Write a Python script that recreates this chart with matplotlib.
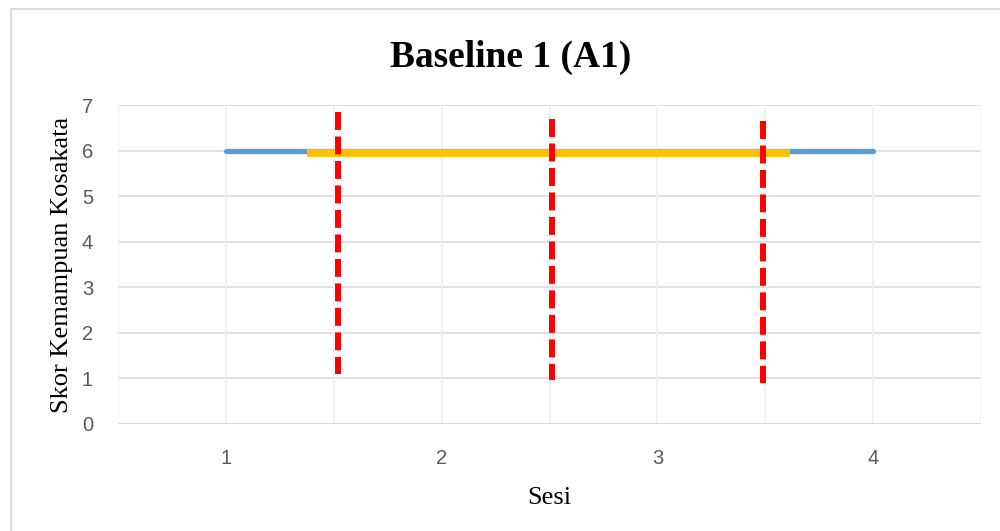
import numpy as np
import matplotlib.pyplot as plt
from matplotlib.patches import Rectangle

# session scores (blue series)
sesi = [1, 2, 3, 4]
skor = [6, 6, 6, 6]

# level band (yellow) start / end and height
band_x = [1.375, 3.615]
band_y = 5.96

# red dashed markers: x, bottom, top
garis_x = [1.52, 2.51, 3.49]
garis_bawah = [1.08, 0.95, 0.90]
garis_atas = [6.85, 6.71, 6.65]

fig = plt.figure(figsize=(10, 5.31), dpi=100)
ax = fig.add_axes([0.118, 0.2024, 0.863, 0.599])

# outer chart border (only top/left visible in frame)
fig.patches.append(Rectangle((0.011, -0.05), 1.2, 1.033, transform=fig.transFigure,
                             fill=False, edgecolor='#D9D9D9', lw=1.3))

ax.set_xlim(0.5, 4.5)
ax.set_ylim(0, 7)

# gridlines
for y in range(1, 8):
    ax.axhline(y, color='#D9D9D9', lw=1.1, zorder=0)
for x in np.arange(0.5, 4.51, 0.5):
    ax.axvline(x, color='#F0F0F0', lw=1.3, zorder=0)
ax.axhline(0, color='#D9D9D9', lw=1.3, zorder=1)

ax.plot(sesi, skor, color='#5B9BD5', lw=3.8, solid_capstyle='round', zorder=2)
ax.plot(band_x, [band_y, band_y], color='#FFC000', lw=5.6, solid_capstyle='butt', zorder=3)

for x, b, t in zip(garis_x, garis_bawah, garis_atas):
    ax.plot([x, x], [t, b], color='#FF0000', lw=4.3, dashes=(3, 1.1),
            dash_capstyle='butt', zorder=4)

for s in ax.spines.values():
    s.set_visible(False)

ax.set_xticks(sesi)
ax.set_yticks(range(0, 8))
ax.tick_params(length=0, labelsize=14.5, colors='#595959', pad=18)
for lbl in ax.get_xticklabels() + ax.get_yticklabels():
    lbl.set_fontfamily('Liberation Sans')

fig.text(0.511, 0.891, 'Baseline 1 (A1)', fontfamily='Liberation Serif', fontweight='bold',
         fontsize=27, ha='center', va='center')
ax.set_ylabel('Skor Kemampuan Kosakata', fontfamily='Liberation Serif', fontsize=19, labelpad=6)
ax.set_xlabel('Sesi', fontfamily='Liberation Serif', fontsize=19, labelpad=14)

fig.savefig('out.png', dpi=100)
